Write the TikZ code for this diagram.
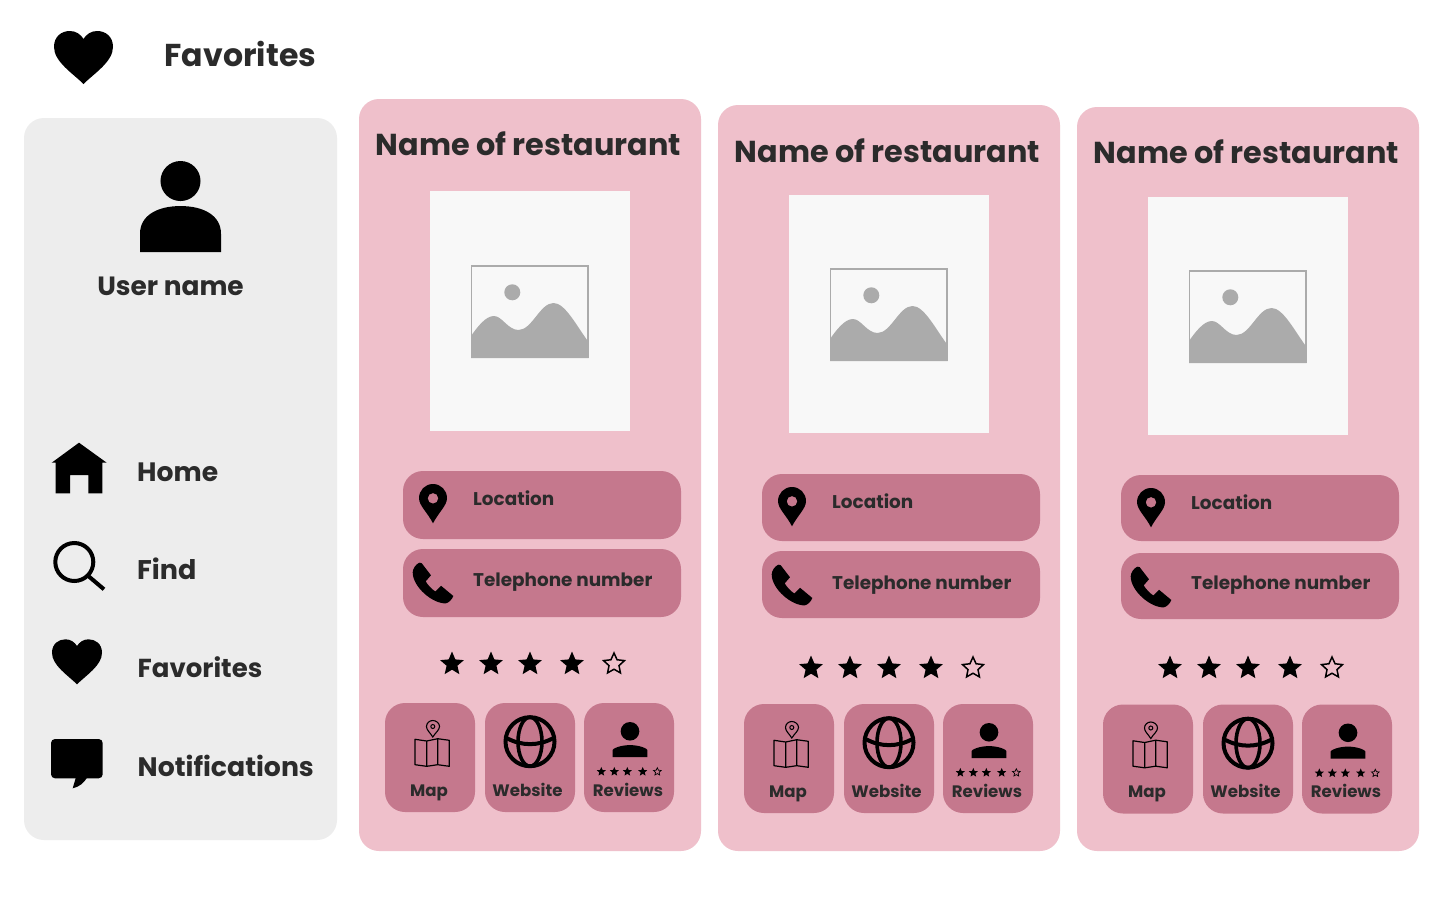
\documentclass[tikz,border=0pt]{standalone}
\usepackage{fontspec}
\setmainfont{Poppins}[UprightFont=* Bold,BoldFont=* Bold]
\usetikzlibrary{shapes.geometric}
\definecolor{cardpink}{HTML}{EFC0CB}
\definecolor{pillpink}{HTML}{C5788D}
\definecolor{sidegrey}{HTML}{EDEDED}
\definecolor{imgwhite}{HTML}{F8F8F8}
\definecolor{icongrey}{HTML}{ABABAB}
\definecolor{inkdark}{HTML}{2B2B2B}
\tikzset{
  txt/.style={anchor=base west,inner sep=0pt,text=inkdark},
  txtc/.style={anchor=base,inner sep=0pt,text=inkdark},
  fullstar/.style={star,star points=5,star point ratio=2.2,inner sep=0pt,fill=black,minimum size=#1},
  openstar/.style={star,star points=5,star point ratio=2.1,inner sep=0pt,draw=black,line width=1.5pt,fill=none,minimum size=#1},
}
\newcommand{\fs}[1]{\fontsize{#1}{#1}\selectfont}
\newcommand{\iconheart}[4]{\begin{scope}[shift={(#1,#2)},x=#3pt,y=-#4pt]
  \fill[black] (.5,1) .. controls (.32,.8) and (0,.58) .. (0,.3) .. controls (0,.1) and (.13,0) .. (.27,0)
    .. controls (.37,0) and (.45,.06) .. (.5,.15) .. controls (.55,.06) and (.63,0) .. (.73,0)
    .. controls (.87,0) and (1,.1) .. (1,.3) .. controls (1,.58) and (.68,.8) .. (.5,1) -- cycle;
\end{scope}}
\newcommand{\iconperson}[8]{\begin{scope}[shift={(#1,#2)},x=#3pt,y=-#4pt]
  \fill[black] (.5,#5) ellipse [x radius=#7,y radius=#6];
  \fill[black] (0,1) -- (0,.8) .. controls (0,#8+.1) and (.22,#8) .. (.5,#8) .. controls (.78,#8) and (1,#8+.1) .. (1,.8) -- (1,1) -- cycle;
\end{scope}}
\newcommand{\iconpin}[4]{\begin{scope}[shift={(#1,#2)},x=#3pt,y=-#4pt]
  \fill[black,even odd rule] (.5,1) .. controls (.3,.72) and (0,.55) .. (0,.36) .. controls (0,.16) and (.22,0) .. (.5,0)
    .. controls (.78,0) and (1,.16) .. (1,.36) .. controls (1,.55) and (.7,.72) .. (.5,1) -- cycle
    (.5,.365) ellipse [x radius=.19,y radius=.135];
\end{scope}}
\newcommand{\iconphone}[4]{\begin{scope}[shift={(#1,#2)},x=#3pt,y=-#4pt]
  \fill[black] (0,.24) .. controls (0,.16) and (.06,.05) .. (.16,0) -- (.22,.01) -- (.45,.31) -- (.32,.46)
    .. controls (.38,.56) and (.47,.65) .. (.56,.71) -- (.70,.57) -- (1,.82) .. controls (.97,.9) and (.9,.98) .. (.82,1)
    .. controls (.5,1.02) and (0,.6) .. (0,.24) -- cycle;
\end{scope}}
\begin{document}
\begin{tikzpicture}[x=1pt,y=-1pt]
\useasboundingbox (0,0) rectangle (1440,900);
\fill[white] (0,0) rectangle (1440,900);
% header
\iconheart{54}{31}{59}{53}
\node[txt] (pagetitle) at (164.5,66) {\fs{31.6}Favorites};
% sidebar
\fill[sidegrey,rounded corners=20] (24,118) rectangle (337,840);
\iconperson{140}{161}{81}{91}{.22}{.22}{.247}{.495}
\node[txtc] (username) at (170.5,295) {\fs{26.4}User name};
% home
\fill[black] (79,442.7) -- (106.7,462.7) -- (102.3,462.7) -- (102.3,493.3) -- (88.3,493.3) -- (88.3,475) -- (70,475) -- (70,493.3) -- (55.7,493.3) -- (55.7,462.7) -- (51.7,462.7) -- cycle;
\node[txt] (home) at (137,481.7) {\fs{26.6}Home};
% find
\draw[black,line width=4pt] (74.3,562) circle [radius=19];
\draw[black,line width=4pt] (88.3,576) -- (104,589.3);
\node[txt] (find) at (137,579.7) {\fs{27}Find};
% favorites
\iconheart{52}{639.3}{50}{45}
\node[txt] (favs) at (137.5,677.7) {\fs{26}Favorites};
% notifications
\fill[black,rounded corners=4] (51,739) rectangle (102.7,778.3);
\fill[black] (76,777) -- (72.7,788.3) .. controls (79,787) and (84,783) .. (87.5,777) -- cycle;
\node[txt] (notif) at (137.5,776.5) {\fs{26.7}Notifications};
% cards
\foreach \cn/\dx/\ctop/\tbase/\imt/\imb/\icy/\loct/\locb/\telt/\telb/\teloff/\stary/\btn in {
  1/0/99/155/191/431/265/471/539/549/617/37/664/703,
  2/359/105/162/195/433/268/474/541/551/618/38/668/704,
  3/718/107/163/197/435/270/475/541/553/619/36/668/704.5}{
  \fill[cardpink,rounded corners=20] (359+\dx,\ctop) rectangle (701+\dx,851);
  \node[txtc] (title\cn) at (528.3+\dx,\tbase) {\fs{30.3}Name of restaurant};
  \fill[imgwhite] (430+\dx,\imt) rectangle (630+\dx,\imb);
  \begin{scope}[shift={(\dx,\icy-265)}]
    \draw[icongrey,line width=1.5pt] (471.7,266) rectangle (588,357.3);
    \fill[icongrey] (512.3,292.3) circle [radius=8];
    \fill[icongrey] (471,336) .. controls (478,326) and (486,316) .. (494,316)
      .. controls (502,316) and (508,330) .. (518.5,330) .. controls (532,330) and (540,303) .. (553.5,303)
      .. controls (565,303) and (576,325) .. (588.5,342) -- (588.5,358) -- (471,358) -- cycle;
  \end{scope}
  \fill[pillpink,rounded corners=20] (403+\dx,\loct) rectangle (681+\dx,\locb);
  \fill[pillpink,rounded corners=20] (403+\dx,\telt) rectangle (681+\dx,\telb);
  \iconpin{419+\dx}{\loct+13}{28}{39.3}
  \iconphone{412.7+\dx}{\telt+13.7}{40.6}{40.6}
  \node[txt] (loc\cn) at (473+\dx,\loct+34.5) {\fs{18.4}Location};
  \node[txt] (tel\cn) at (473+\dx,\telt+\teloff) {\fs{18.4}Telephone number};
  \foreach \sx/\sn in {452/a,491/b,530/c,572/d}{
    \node[fullstar=25pt] (st\cn\sn) at (\sx+\dx,\stary) {};
  }
  \node[openstar=22pt] (st\cn e) at (614+\dx,\stary) {};
  \begin{scope}[shift={(\dx,\btn-703)}]
    \foreach \bx in {385,485,584}{
      \fill[pillpink,rounded corners=20] (\bx,703) rectangle (\bx+90,812);
    }
    % map
    \draw[black,line width=1.2pt,line join=round] (415,739.3) -- (426.7,741) -- (437.7,738.7) -- (449.3,740.3) -- (449.3,766.3) -- (437.7,764.7) -- (426.7,766.3) -- (415,764.7) -- cycle
      (426.7,741) -- (426.7,766.3) (437.7,738.7) -- (437.7,764.7);
    \draw[black,line width=1.1pt] (432.8,737) .. controls (430,732.5) and (426.5,730) .. (426.5,726.5) .. controls (426.5,723) and (429.5,720.5) .. (432.8,720.5) .. controls (436,720.5) and (439.5,723) .. (439.5,726.5) .. controls (439.5,730) and (435.5,732.5) .. (432.8,737) -- cycle;
    \draw[black,line width=1pt] (432.8,726.5) circle [radius=2];
    \node[txtc] (map\cn) at (429,796) {\fs{16.6}Map};
    % globe
    \draw[black,line width=4pt] (530,741.7) circle [radius=24.5];
    \draw[black,line width=3.6pt] (530,741.7) ellipse [x radius=12,y radius=24.5];
    \draw[black,line width=4pt] (507.5,738.5) .. controls (522,746) and (538,746) .. (552.5,738.5);
    \node[txtc] (web\cn) at (527.5,796) {\fs{16.6}Website};
    % reviews
    \iconperson{612.7}{722}{34.6}{35}{.265}{.265}{.27}{.66}
    \foreach \sx/\sn in {601.3/a,614.3/b,627.3/c,642.7/d}{
      \node[fullstar=9.5pt] (ss\cn\sn) at (\sx,771.7) {};
    }
    \node[openstar=8pt,line width=.7pt] (ss\cn e) at (657.3,771.7) {};
    \node[txtc] (rev\cn) at (628,796) {\fs{16.6}Reviews};
  \end{scope}
}
\end{tikzpicture}
\end{document}
